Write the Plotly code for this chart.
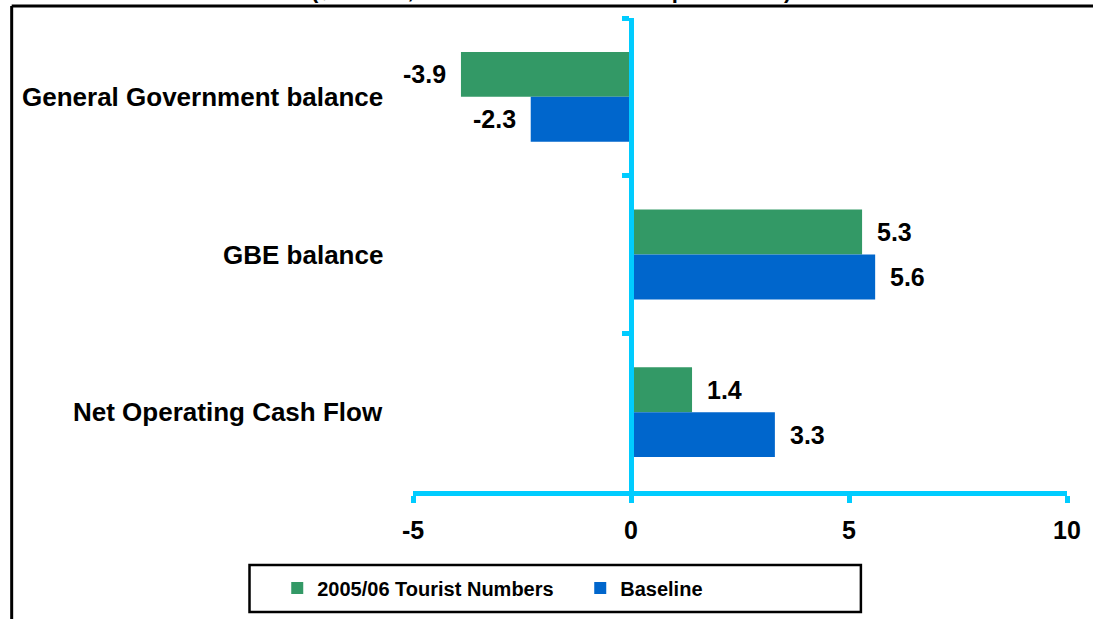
import plotly.graph_objects as go

categories = ["General Government balance", "GBE balance", "Net Operating Cash Flow"]
series_names = ["2005/06 Tourist Numbers", "Baseline"]
tourist_values = [-3.9, 5.3, 1.4]
baseline_values = [-2.3, 5.6, 3.3]
x_ticks = [-5, 0, 5, 10]
title_text = "($ million, deviation from baseline per annum)"

GREEN = "#339966"
BLUE = "#0066CC"
CYAN = "#00CCFF"
FONT = "Liberation Sans, Arial, sans-serif"

W, H = 1093, 619
L, R, T, B = 413, 20, 18, 128
plot_w = W - L - R
plot_h = H - T - B


def px_x(px):
    return (px - L) / plot_w


def px_y(py):
    return (H - B - py) / plot_h


fig = go.Figure()
fig.add_trace(go.Bar(y=categories, x=tourist_values, orientation="h", name=series_names[0],
                     marker=dict(color=GREEN, line=dict(width=0))))
fig.add_trace(go.Bar(y=categories, x=baseline_values, orientation="h", name=series_names[1],
                     marker=dict(color=BLUE, line=dict(width=0))))

annotations = []
# data labels
for vals, shift in ((tourist_values, 22.5), (baseline_values, -22.5)):
    for cat, v in zip(categories, vals):
        annotations.append(dict(
            x=v, y=cat, xref="x", yref="y", text=f"<b>{v:.1f}</b>", showarrow=False,
            xanchor="left" if v >= 0 else "right", xshift=13 if v >= 0 else -13,
            yshift=shift, font=dict(family=FONT, size=25, color="black")))
# category labels
for cat in categories:
    annotations.append(dict(
        x=0, y=cat, xref="paper", yref="y", text=f"<b>{cat}</b>", showarrow=False,
        xanchor="right", xshift=-28, font=dict(family=FONT, size=26, color="black")))
# title (mostly cut off at the top)
annotations.append(dict(
    x=px_x(552), y=1, xref="paper", yref="paper", text=f"<b>{title_text}</b>",
    showarrow=False, xanchor="center", yanchor="bottom", yshift=13,
    font=dict(family=FONT, size=22, color="black")))

shapes = [
    # outer frame (top and left edges visible)
    dict(type="line", xref="paper", yref="paper", x0=px_x(8), x1=1.2, y0=px_y(6), y1=px_y(6),
         line=dict(color="black", width=3)),
    dict(type="line", xref="paper", yref="paper", x0=px_x(8), x1=px_x(8), y0=px_y(6), y1=-0.5,
         line=dict(color="black", width=3)),
    # legend box
    dict(type="rect", xref="paper", yref="paper", x0=px_x(248), x1=px_x(865),
         y0=px_y(612), y1=px_y(565), line=dict(color="black", width=2.5), fillcolor="rgba(0,0,0,0)"),
]

fig.update_layout(
    width=W, height=H,
    margin=dict(l=L, r=R, t=T, b=B, pad=0),
    paper_bgcolor="white", plot_bgcolor="white",
    barmode="group", bargap=0.43, bargroupgap=0,
    font=dict(family=FONT, color="black"),
    showlegend=True,
    legend=dict(orientation="h", x=px_x(276), y=px_y(588), xanchor="left", yanchor="middle",
                font=dict(family=FONT, size=20, color="black", weight="bold"),
                entrywidth=258, bgcolor="rgba(0,0,0,0)", borderwidth=0,
                traceorder="normal"),
    annotations=annotations,
    shapes=shapes,
)

fig.update_xaxes(range=[-5, 10], tickvals=x_ticks, ticktext=[f"<b>{t}</b>" for t in x_ticks],
                 showgrid=False, zeroline=False, showline=True, linecolor=CYAN, linewidth=5,
                 ticks="outside", ticklen=7, tickwidth=5, tickcolor=CYAN,
                 tickfont=dict(family=FONT, size=25, color="black"), ticklabelstandoff=6,
                 fixedrange=True)
fig.update_yaxes(categoryorder="array", categoryarray=categories, autorange="reversed",
                 showgrid=False, zeroline=False, showline=True, linecolor=CYAN, linewidth=5,
                 anchor="free", position=px_x(633),
                 ticks="outside", tickson="boundaries", ticklen=7, tickwidth=5, tickcolor=CYAN,
                 showticklabels=False, fixedrange=True)

fig.write_html("out.html", config={"displayModeBar": False},
               post_script="document.body.style.margin='0';document.body.style.overflow='hidden';")
